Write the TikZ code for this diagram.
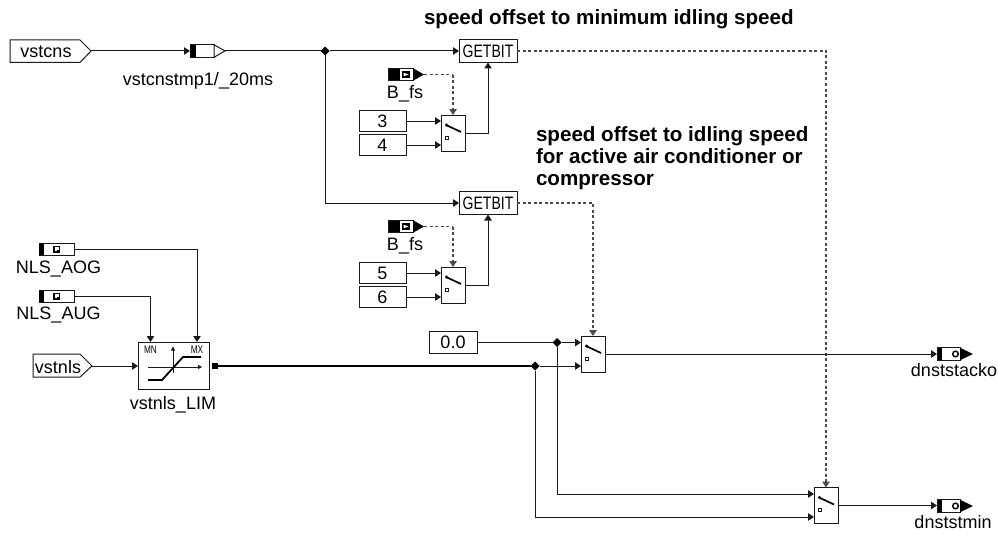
\documentclass[tikz,border=0pt]{standalone}
\usepackage{fontspec}
\usepackage{graphicx}
\setmainfont{Liberation Sans}
\usetikzlibrary{arrows.meta,shapes.geometric,calc}
\tikzset{
  x=1pt,y=-1pt,
  wire/.style={line width=1pt,draw=black!90},
  heavy/.style={line width=1.3pt,draw=black},
  sig/.style={wire,-{Triangle[length=6pt,width=7.5pt]}},
  dshp/.style={line width=1.2pt,draw=black!70,dash pattern=on 3pt off 2.5pt},
  dsh/.style={dshp,-{Triangle[length=6pt,width=7.5pt]}},
  blockbox/.style={draw=black!90,line width=1pt,fill=white,inner sep=0pt,outer sep=0pt,rectangle},
  sw/.style={blockbox,minimum width=24pt,minimum height=36pt},
  gb/.style={blockbox,minimum width=58pt,minimum height=23pt,font=\fontsize{18}{18}\selectfont},
  cst/.style={blockbox,minimum width=47pt,minimum height=21.5pt,font=\fontsize{18}{18}\selectfont},
  lbl/.style={anchor=base,inner sep=0pt,outer sep=0pt,font=\fontsize{18}{18}\selectfont},
  ttl/.style={anchor=base west,inner sep=0pt,outer sep=0pt,font=\fontsize{20.6}{20.6}\selectfont\bfseries},
  jn/.style={diamond,fill=black,inner sep=0pt,minimum size=9pt,outer sep=0pt},
  anchorbox/.style={rectangle,inner sep=0pt,outer sep=0pt},
}
\newcommand{\GB}{\scalebox{0.78}[1]{GETBIT}}
% switch: name, x, y
\newcommand{\swblock}[3]{%
  \node[sw] (#1) at (#2,#3) {};
  \draw[line width=1.7pt,black] ($(#1.center)+(-7,-8)$) -- ($(#1.center)+(8,-1)$);
  \fill[black] ($(#1.center)+(-6.5,-8)$) circle (1.6pt);
  \draw[line width=1pt,black!90] ($(#1.center)+(-7.7,3)$) rectangle ($(#1.center)+(-4.3,6.4)$);
}
\newcommand{\msgin}[3]{%
  \node[anchorbox,minimum width=36pt,minimum height=12.5pt,anchor=west] (#1) at (#2,#3) {};
  \fill[black] (#1.north west) rectangle ($(#1.south west)+(12,0)$);
  \draw[line width=1pt,black!90] (#1.north west) rectangle ($(#1.south east)+(-11,0)$);
  \fill[black] ($(#1.north east)+(-11,0)$) -- (#1.east) -- ($(#1.south east)+(-11,0)$) -- cycle;
  \fill[black] ($(#1.center)+(-4,-3.5)$) rectangle ($(#1.center)+(3.5,3.5)$);
  \fill[white] ($(#1.center)+(-2.5,-1.8)$) -- ($(#1.center)+(2.5,0)$) -- ($(#1.center)+(-2.5,1.8)$) -- cycle;
}
\newcommand{\msgout}[3]{%
  \node[anchorbox,minimum width=36pt,minimum height=12.5pt,anchor=west] (#1) at (#2,#3) {};
  \fill[black] (#1.north west) rectangle ($(#1.south west)+(5,0)$);
  \draw[line width=1pt,black!90] (#1.north west) rectangle ($(#1.south east)+(-13,0)$);
  \fill[black] ($(#1.north east)+(-13,0)$) -- (#1.east) -- ($(#1.south east)+(-13,0)$) -- cycle;
  \draw[line width=1.4pt,black] ($(#1.center)+(0.5,0)$) circle (2.8pt);
}
\newcommand{\param}[3]{%
  \node[blockbox,minimum width=35pt,minimum height=12pt,anchor=west] (#1) at (#2,#3) {};
  \fill[black] (#1.north west) rectangle ($(#1.south west)+(5,0)$);
  \fill[black] ($(#1.center)+(-3.5,-3.5)$) rectangle ($(#1.center)+(3.5,3.5)$);
  \fill[white] ($(#1.center)+(-2,-2)$) rectangle ($(#1.center)+(2,1)$);
  \fill[white] ($(#1.center)+(-2,1)$) rectangle ($(#1.center)+(0.5,2)$);
}
\begin{document}
\begin{tikzpicture}
\useasboundingbox (0,0) rectangle (998,535);

% input ports
\coordinate (vcnsTip) at (91,51);
\draw[wire] (10,40) -- (80,40) -- (vcnsTip) -- (80,62.5) -- (10,62.5) -- cycle;
\node[lbl] (vcnsT) at (46,58) {vstcns};
\coordinate (vnlsTip) at (92,366);
\draw[wire] (33,354) -- (80,354) -- (vnlsTip) -- (80,377) -- (33,377) -- cycle;
\node[lbl] (vnlsT) at (58,373) {vstnls};

% temp message block
\node[anchorbox,minimum width=35pt,minimum height=12.5pt,anchor=west] (tmp) at (190,51) {};
\draw[line width=1pt,black!90] (tmp.north west) rectangle ($(tmp.south east)+(-11,0)$);
\fill[black] (tmp.north west) rectangle ($(tmp.south west)+(6,0)$);
\draw[line width=1pt,black!90,fill=white] ($(tmp.north east)+(-11,0)$) -- (tmp.east) -- ($(tmp.south east)+(-11,0)$) -- cycle;
\node[lbl] (tmpT) at (198,85.5) {vstcnstmp1/\_20ms};

% getbit blocks
\node[gb] (gb1) at (488,51) {\GB};
\node[gb] (gb2) at (488,203) {\GB};

% switches
\swblock{s1}{453}{133}
\swblock{s2}{453}{285}
\swblock{s3}{593}{354}
\swblock{s4}{826}{505.5}

% constants
\node[cst] (c3) at (382.5,121) {3};
\node[cst] (c4) at (382.5,145) {4};
\node[cst] (c5) at (382.5,273) {5};
\node[cst] (c6) at (382.5,297) {6};
\node[cst,minimum width=48pt] (c0) at (453,342.5) {0.0};

% B_fs
\msgin{bf1}{388}{74.5}
\node[lbl] (bf1T) at (405,98) {B\_fs};
\msgin{bf2}{388}{226.5}
\node[lbl] (bf2T) at (405,250) {B\_fs};

% parameters
\param{aog}{39}{249}
\node[lbl] (aogT) at (58.5,273) {NLS\_AOG};
\param{aug}{39}{296}
\node[lbl] (augT) at (58.5,319) {NLS\_AUG};

% limiter
\node[blockbox,minimum width=71pt,minimum height=47pt] (lim) at (173.5,365.5) {};
\node[anchorbox,font=\fontsize{11}{11}\selectfont] (mn) at (150.5,350) {\scalebox{0.75}[1]{MN}};
\node[anchorbox,font=\fontsize{11}{11}\selectfont] (mx) at (197,350) {\scalebox{0.75}[1]{MX}};
\draw[line width=0.9pt,black!90,-{Triangle[length=4pt,width=4pt]}] (173,373) -- (173,346.5);
\draw[line width=0.9pt,black!90,-{Triangle[length=4pt,width=4pt]}] (148,367) -- (202,367);
\draw[line width=1.8pt,black] (148,380) -- (162,380) -- (183,357) -- (201,357);
\node[lbl] (limT) at (173,409) {vstnls\_LIM};
\node[rectangle,fill=black,inner sep=0pt,minimum size=6pt] (limOut) at (215,366) {};

% outputs
\msgout{o1}{937}{354}
\node[lbl] (o1T) at (954,376) {dnststacko};
\msgout{o2}{937}{506}
\node[lbl] (o2T) at (953,528) {dnststmin};

% junctions
\node[jn] (j1) at (325,51) {};
\node[jn] (j2) at (557,342.5) {};
\node[jn] (j3) at (535,366) {};

% titles
\node[ttl] (t1) at (424,25) {speed offset to minimum idling speed};
\node[ttl] (t2) at (536,141) {speed offset to idling speed};
\node[ttl] (t3) at (536,163) {for active air conditioner or};
\node[ttl] (t4) at (536,185) {compressor};

% wires
\draw[sig] (vcnsTip) -- (tmp.west);
\draw[wire] (tmp.east) -- (j1);
\draw[sig] (j1) -- (gb1.west);
\draw[sig] (j1) |- (gb2.west);
\draw[dshp] (bf1.east) -- (s1.north |- bf1.east);
\draw[dsh] (s1.north |- bf1.east) -- (s1.north);
\draw[dshp] (bf2.east) -- (s2.north |- bf2.east);
\draw[dsh] (s2.north |- bf2.east) -- (s2.north);
\draw[sig] (c3.east) -- (c3.east -| s1.west);
\draw[sig] (c4.east) -- (c4.east -| s1.west);
\draw[sig] (c5.east) -- (c5.east -| s2.west);
\draw[sig] (c6.east) -- (c6.east -| s2.west);
\draw[sig] (s1.east) -| (gb1.south);
\draw[sig] (s2.east) -| (gb2.south);
\draw[dsh] (gb1.east) -| (s4.north);
\draw[dsh] (gb2.east) -| (s3.north);
\draw[sig] (aog.east) -| (mx.center |- lim.north);
\draw[sig] (aug.east) -| (mn.center |- lim.north);
\draw[sig] (vnlsTip) -- (vnlsTip -| lim.west);
\draw[heavy] (limOut) -- (j3);
\draw[sig] (j3) -- (j3 -| s3.west);
\draw[wire] (c0.east) -- (j2);
\draw[sig] (j2) -- (j2 -| s3.west);
\coordinate (s4a) at ($(s4.west)+(0,-11.5)$);
\coordinate (s4b) at ($(s4.west)+(0,11.5)$);
\draw[sig] (j2) |- (s4a);
\draw[sig] (j3) |- (s4b);
\draw[sig] (s3.east) -- (s3.east -| o1.west);
\draw[sig] (s4.east) -- (s4.east -| o2.west);
\end{tikzpicture}
\end{document}
